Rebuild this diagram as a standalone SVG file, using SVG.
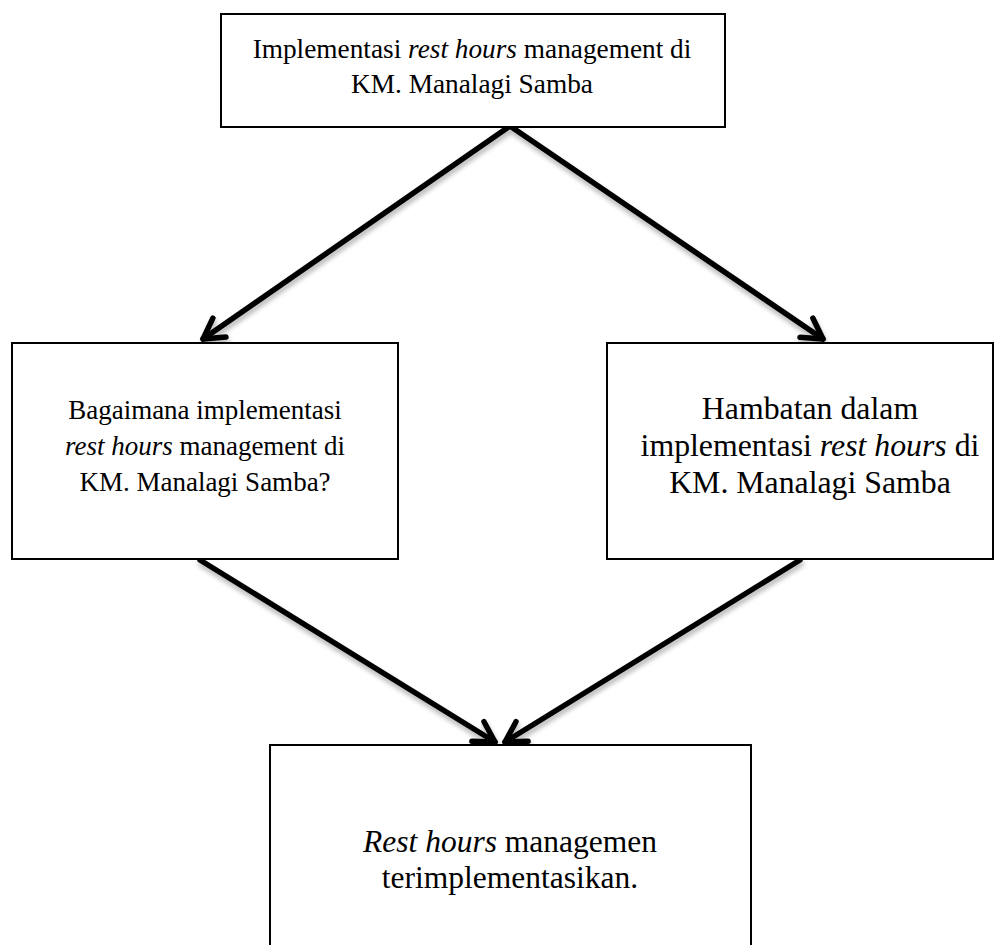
<svg xmlns="http://www.w3.org/2000/svg" width="1005" height="945" viewBox="0 0 1005 945">
<style>
.box{fill:#fff;stroke:#000;stroke-width:2}
.t{font-family:"Liberation Serif","Times New Roman",serif;fill:#000;text-anchor:middle}
.s1{font-size:27.3px}
.s2{font-size:27px}
.s3{font-size:31.8px}
.s4{font-size:31.5px}
.i{font-style:italic}
.c{fill:none;stroke:#000;stroke-width:5.5;stroke-linecap:round;stroke-linejoin:round}
</style>
<defs>
<marker id="ah" markerUnits="userSpaceOnUse" markerWidth="40" markerHeight="40" viewBox="-30 -20 40 40" refX="0" refY="0" orient="auto" overflow="visible">
<path d="M -20 -11.5 L 0 0 L -20 11.5" fill="none" stroke="#000" stroke-width="5.5" stroke-linecap="round" stroke-linejoin="round"/>
</marker>
<filter id="sh" x="-20%" y="-20%" width="140%" height="140%">
<feGaussianBlur in="SourceAlpha" stdDeviation="2.5"/>
<feOffset dx="1" dy="4" result="b"/>
<feComponentTransfer><feFuncA type="linear" slope="0.3"/></feComponentTransfer>
<feMerge><feMergeNode/><feMergeNode in="SourceGraphic"/></feMerge>
</filter>
</defs>
<rect width="1005" height="945" fill="#fff"/>
<g id="connectors" filter="url(#sh)">
<path class="c" d="M 510 126 L 203 339" marker-end="url(#ah)"/>
<path class="c" d="M 510 126 L 823 339" marker-end="url(#ah)"/>
<path class="c" d="M 200 560 L 495 742" marker-end="url(#ah)"/>
<path class="c" d="M 800 560 L 505 742" marker-end="url(#ah)"/>
</g>
<g id="n1">
<rect class="box" x="221" y="14" width="504" height="113"/>
<text class="t s1" x="472" y="58">Implementasi <tspan class="i">rest hours</tspan> management di</text>
<text class="t s1" x="472" y="93">KM. Manalagi Samba</text>
</g>
<g id="n2">
<rect class="box" x="12" y="343" width="386" height="216"/>
<text class="t s2" x="205" y="419">Bagaimana implementasi</text>
<text class="t s2" x="205" y="455"><tspan class="i">rest hours</tspan> management di</text>
<text class="t s2" x="205" y="491">KM. Manalagi Samba?</text>
</g>
<g id="n3">
<rect class="box" x="607" y="343" width="386" height="216"/>
<text class="t s3" x="810" y="419">Hambatan dalam</text>
<text class="t s3" x="810" y="456">implementasi <tspan class="i">rest hours</tspan> di</text>
<text class="t s3" x="810" y="493">KM. Manalagi Samba</text>
</g>
<g id="n4">
<rect class="box" x="270" y="745" width="481" height="220"/>
<text class="t s4" x="510" y="852"><tspan class="i">Rest hours</tspan> managemen</text>
<text class="t s4" x="510" y="888">terimplementasikan.</text>
</g>
</svg>
